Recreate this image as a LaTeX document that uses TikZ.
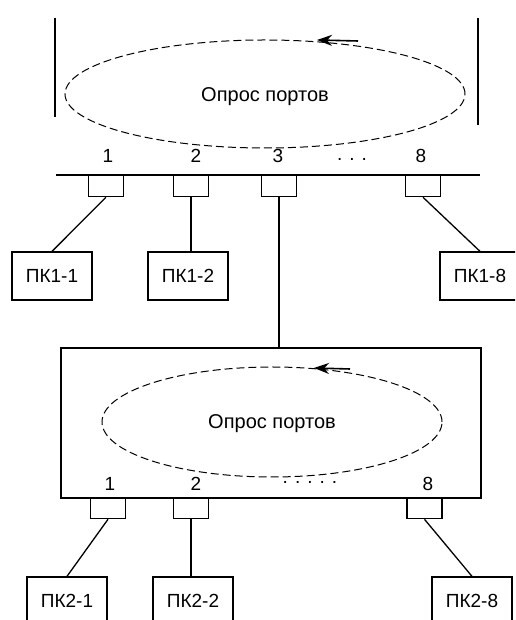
\documentclass[tikz,border=0pt]{standalone}
\usepackage{fontspec}
\setmainfont{Liberation Sans}
\usetikzlibrary{arrows.meta}

\begin{document}
\begin{tikzpicture}[x=1pt, y=1pt, line width=1.3pt,
    port/.style={draw, minimum width=35pt, minimum height=21pt, anchor=north, inner sep=0pt},
    pc/.style={draw, minimum width=80pt, minimum height=48pt, inner sep=0pt, font=\fontsize{19}{22}\selectfont},
    num/.style={font=\fontsize{19}{22}\selectfont},
    loopline/.style={line width=1pt, dash pattern=on 8pt off 4pt},
    looparrow/.style={line width=1.6pt, -{Stealth[length=15pt, width=11pt]}}]
  \clip (0,0) rectangle (515,620);
  % upper switch
  \draw (55,602) -- (55,503);
  \draw (478,602) -- (478,495);
  \draw[loopline] (265,526) ellipse (200pt and 54pt);
  \draw[looparrow] (358,579) -- (317,580);
  \node[font=\fontsize{20}{24}\selectfont] (poll1) at (265,523) {Опрос портов};
  \draw (56,445) -- (480,445);
  \node[port] (p11) at (106,445) {};
  \node[port] (p12) at (191,445) {};
  \node[port] (p13) at (279,445) {};
  \node[port] (p18) at (423,445) {};
  \node[num] (n11) at (108,464) {1};
  \node[num] (n12) at (196,464) {2};
  \node[num] (n13) at (278,464) {3};
  \node[num] (n18) at (421,464) {8};
  \node[num] (d1) at (352,461) {. . .};
  \node[pc] (pc11) at (52,344) {ПК1-1};
  \node[pc] (pc12) at (188,344) {ПК1-2};
  \node[pc] (pc18) at (480,344) {ПК1-8};
  \draw (p11.south) -- (pc11.north);
  \draw (p12.south) -- (p12.south |- pc12.north);
  \draw (p18.south) -- (pc18.north);
  % lower switch
  \node[draw, minimum width=420pt, minimum height=150pt, inner sep=0pt] (sw2) at (271,197) {};
  \draw (p13.south) -- (p13.south |- sw2.north);
  \draw[loopline] (272,198) ellipse (170pt and 55pt);
  \draw[looparrow] (350,251) -- (314,252);
  \node[font=\fontsize{20}{24}\selectfont] (poll2) at (272,196) {Опрос портов};
  \node[num] (n21) at (110,136) {1};
  \node[num] (n22) at (196,136) {2};
  \node[num] (n28) at (428,136) {8};
  \node[num] (d2) at (310,138) {. . . . .};
  \node[port, minimum height=20pt] (p21) at (108,122) {};
  \node[port, minimum height=20pt] (p22) at (191,122) {};
  \node[port, minimum height=20pt] (p28) at (424.5,122) {};
  \node[pc] (pc21) at (67,19) {ПК2-1};
  \node[pc] (pc22) at (193,19) {ПК2-2};
  \node[pc] (pc28) at (472,19) {ПК2-8};
  \draw (p21.south) -- (pc21.north);
  \draw (p22.south) -- (p22.south |- pc22.north);
  \draw (p28.south) -- (pc28.north);
\end{tikzpicture}
\end{document}
